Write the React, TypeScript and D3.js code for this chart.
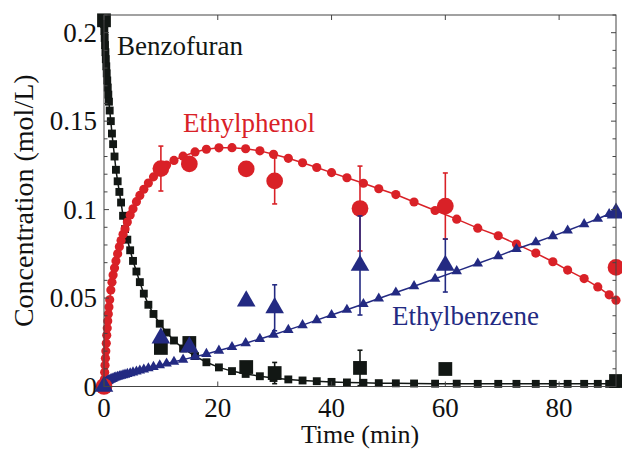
import React from "react";
import * as d3 from "d3";

// ---- model (kinetic fit) time grid and curves ----
const tModel = [0, 0.06, 0.12, 0.18, 0.25, 0.32, 0.4, 0.48, 0.57, 0.66, 0.76, 0.87, 1.0, 1.2, 1.4, 1.6, 1.85, 2.1, 2.4, 2.7, 3.0, 3.35, 3.7, 4.1, 4.6, 5.1, 5.7, 6.3, 7.0, 7.8, 8.7, 9.8, 11.0, 12.3, 13.9, 16.0, 18.0, 20.2, 22.5, 24.9, 27.4, 29.8, 32.4, 34.9, 37.4, 40.0, 42.7, 45.6, 48.3, 51.3, 54.5, 58.2, 62.0, 65.7, 69.3, 72.5, 75.9, 78.9, 81.5, 84.4, 86.8, 88.8, 90];
const benzofuranModel = [0.205, 0.201, 0.197, 0.193, 0.189, 0.185, 0.181, 0.177, 0.173, 0.169, 0.165, 0.161, 0.156, 0.15, 0.143, 0.137, 0.13, 0.1225, 0.116, 0.11, 0.104, 0.0965, 0.089, 0.083, 0.077, 0.071, 0.065, 0.059, 0.0525, 0.0462, 0.041, 0.0355, 0.0305, 0.026, 0.0215, 0.0172, 0.0137, 0.0108, 0.0087, 0.0071, 0.0058, 0.0048, 0.004, 0.0034, 0.003, 0.0026, 0.0023, 0.0021, 0.0019, 0.0018, 0.0017, 0.0016, 0.0016, 0.0015, 0.0015, 0.0015, 0.0015, 0.0015, 0.0015, 0.0015, 0.0015, 0.0015, 0.0015];
const ethylphenolModel = [0, 0.004, 0.008, 0.012, 0.016, 0.02, 0.0245, 0.029, 0.033, 0.037, 0.041, 0.045, 0.049, 0.0545, 0.059, 0.063, 0.067, 0.071, 0.075, 0.079, 0.0825, 0.086, 0.089, 0.093, 0.097, 0.1005, 0.1045, 0.108, 0.1115, 0.115, 0.1185, 0.122, 0.1252, 0.1278, 0.1302, 0.1326, 0.1341, 0.1349, 0.135, 0.1344, 0.1332, 0.1313, 0.129, 0.1265, 0.1238, 0.1209, 0.118, 0.1149, 0.1118, 0.1085, 0.1043, 0.0995, 0.0946, 0.0895, 0.0852, 0.0805, 0.0754, 0.0705, 0.0658, 0.061, 0.0563, 0.0518, 0.0488];
const ethylbenzeneModel = [0, 0.0006, 0.0011, 0.0015, 0.0019, 0.0022, 0.0025, 0.0027, 0.0029, 0.0031, 0.0033, 0.0035, 0.0037, 0.004, 0.0043, 0.0046, 0.0049, 0.0052, 0.0055, 0.0058, 0.0061, 0.0064, 0.0067, 0.0071, 0.0075, 0.008, 0.0085, 0.009, 0.0096, 0.0103, 0.0111, 0.012, 0.013, 0.014, 0.0152, 0.0168, 0.0184, 0.0203, 0.0223, 0.0245, 0.0269, 0.0293, 0.032, 0.0347, 0.0375, 0.0404, 0.0434, 0.0466, 0.0497, 0.0531, 0.0567, 0.0609, 0.0652, 0.0695, 0.0737, 0.0777, 0.0815, 0.085, 0.0882, 0.0918, 0.0948, 0.0975, 0.099];

// ---- experimental data ----
const tExp = [0, 10, 15, 25, 30, 45, 60, 90];
const benzofuranExp = [0.207, 0.0218, 0.0246, 0.011, 0.0076, 0.0105, 0.0099, 0.0031];
const benzofuranErr = [0, 0, 0, 0, 0.006, 0.01, 0, 0];
const ethylphenolExp = [0, 0.1232, 0.1258, 0.123, 0.1162, 0.1006, 0.102, 0.0673];
const ethylphenolErr = [0, 0.0127, 0, 0, 0.013, 0.024, 0.0187, 0];
const ethylbenzeneExp = [0, 0.0274, 0.0223, 0.0483, 0.0445, 0.0684, 0.0684, 0.098];
const ethylbenzeneErr = [0, 0, 0, 0, 0.013, 0.028, 0.015, 0];

// ---- axes ----
const xTicks = [0, 20, 40, 60, 80];
const yTicks = [0, 0.05, 0.1, 0.15, 0.2];
const yTickLabels = ["0", "0.05", "0.1", "0.15", "0.2"];
const yMinorTicks = d3.range(0, 22).map((i) => i * 0.01);

const BLACK = "#121714";
const RED = "#d92127";
const BLUE = "#232a82";
const FONT = "Liberation Serif, Times New Roman, Tinos, DejaVu Serif, serif";
const TXT = { fontFamily: FONT };

const W = 622, H = 449;
const L = 104, R = 616, T = 15, B = 386.5;

export default function App() {
  const x = d3.scaleLinear().domain([0, 90]).range([L, R]);
  const y = d3.scaleLinear().domain([0, 0.21]).range([B, T]);
  const line = d3.line<[number, number]>().x((d) => x(d[0])).y((d) => y(d[1]));

  const series = [
    { model: benzofuranModel, exp: benzofuranExp, err: benzofuranErr, color: BLACK, sym: d3.symbolSquare, ms: 62, es: 190 },
    { model: ethylphenolModel, exp: ethylphenolExp, err: ethylphenolErr, color: RED, sym: d3.symbolCircle, ms: 66, es: 220 },
    { model: ethylbenzeneModel, exp: ethylbenzeneExp, err: ethylbenzeneErr, color: BLUE, sym: d3.symbolTriangle, ms: 48, es: 150 },
  ];
  const expOrder = [0, 1, 2];

  return (
    <svg width={W} height={H} style={{ position: "absolute", left: 0, top: 0, background: "#fff" }}>
      {/* models */}
      {series.map((s, si) => {
        const pts = tModel.map((t, i) => [t, s.model[i]] as [number, number]);
        const sym = d3.symbol().type(s.sym).size(s.ms)();
        return (
          <g key={"m" + si}>
            <path d={line(pts) || ""} fill="none" stroke={s.color} strokeWidth={1.5} />
            {pts.map((p, i) => (
              <path key={i} d={sym || ""} transform={`translate(${x(p[0])},${y(p[1])})`} fill={s.color} />
            ))}
          </g>
        );
      })}
      {/* experimental */}
      {expOrder.map((si) => {
        const s = series[si];
        const sym = d3.symbol().type(s.sym).size(s.es)();
        return (
          <g key={"e" + si}>
            {tExp.map((t, i) =>
              s.err[i] > 0 ? (
                <g key={"b" + i} stroke={s.color} strokeWidth={1.6}>
                  <line x1={x(t)} x2={x(t)} y1={y(s.exp[i] - s.err[i])} y2={y(s.exp[i] + s.err[i])} />
                  <line x1={x(t) - 2.5} x2={x(t) + 2.5} y1={y(s.exp[i] - s.err[i])} y2={y(s.exp[i] - s.err[i])} />
                  <line x1={x(t) - 2.5} x2={x(t) + 2.5} y1={y(s.exp[i] + s.err[i])} y2={y(s.exp[i] + s.err[i])} />
                </g>
              ) : null
            )}
            {tExp.map((t, i) => (
              <path key={i} d={sym || ""} transform={`translate(${x(t)},${y(s.exp[i])})`} fill={s.color} />
            ))}
          </g>
        );
      })}
      {/* frame */}
      <rect x={L} y={T} width={R - L} height={B - T} fill="none" stroke="#444" strokeWidth={1} />
      {yMinorTicks.map((v, i) => {
        const major = i % 5 === 0;
        const len = major ? 5 : 3.5;
        return (
          <g key={"yt" + i} stroke="#444" strokeWidth={1}>
            <line x1={L} x2={L + len} y1={y(v)} y2={y(v)} />
            <line x1={R} x2={R - len} y1={y(v)} y2={y(v)} />
          </g>
        );
      })}
      {xTicks.map((v, i) => (
        <g key={"xt" + i} stroke="#444" strokeWidth={1}>
          <line x1={x(v)} x2={x(v)} y1={B} y2={B - 5} />
          <line x1={x(v)} x2={x(v)} y1={T} y2={T + 5} />
        </g>
      ))}
      {xTicks.map((v, i) => (
        <text key={"xl" + i} x={x(v)} y={417} textAnchor="middle" fontSize={27} fill="#111" style={TXT}>
          {String(v)}
        </text>
      ))}
      {yTicks.map((v, i) => (
        <text key={"yl" + i} x={97} y={y(v) + 9} textAnchor="end" fontSize={27} fill="#111" style={TXT}>
          {yTickLabels[i]}
        </text>
      ))}
      <text x={(L + R) / 2} y={443} textAnchor="middle" fontSize={26} fill="#111" style={TXT}>Time (min)</text>
      <text transform={`translate(33,${(T + B) / 2}) rotate(-90)`} textAnchor="middle" fontSize={28} fill="#111" style={TXT}>
        Concentration (mol/L)
      </text>
      {/* labels */}
      <text x={117} y={55} fontSize={27} fill={BLACK} style={TXT}>Benzofuran</text>
      <text x={183} y={132} fontSize={27} fill={RED} style={TXT}>Ethylphenol</text>
      <text x={392} y={325} fontSize={27} fill={BLUE} style={TXT}>Ethylbenzene</text>
    </svg>
  );
}
